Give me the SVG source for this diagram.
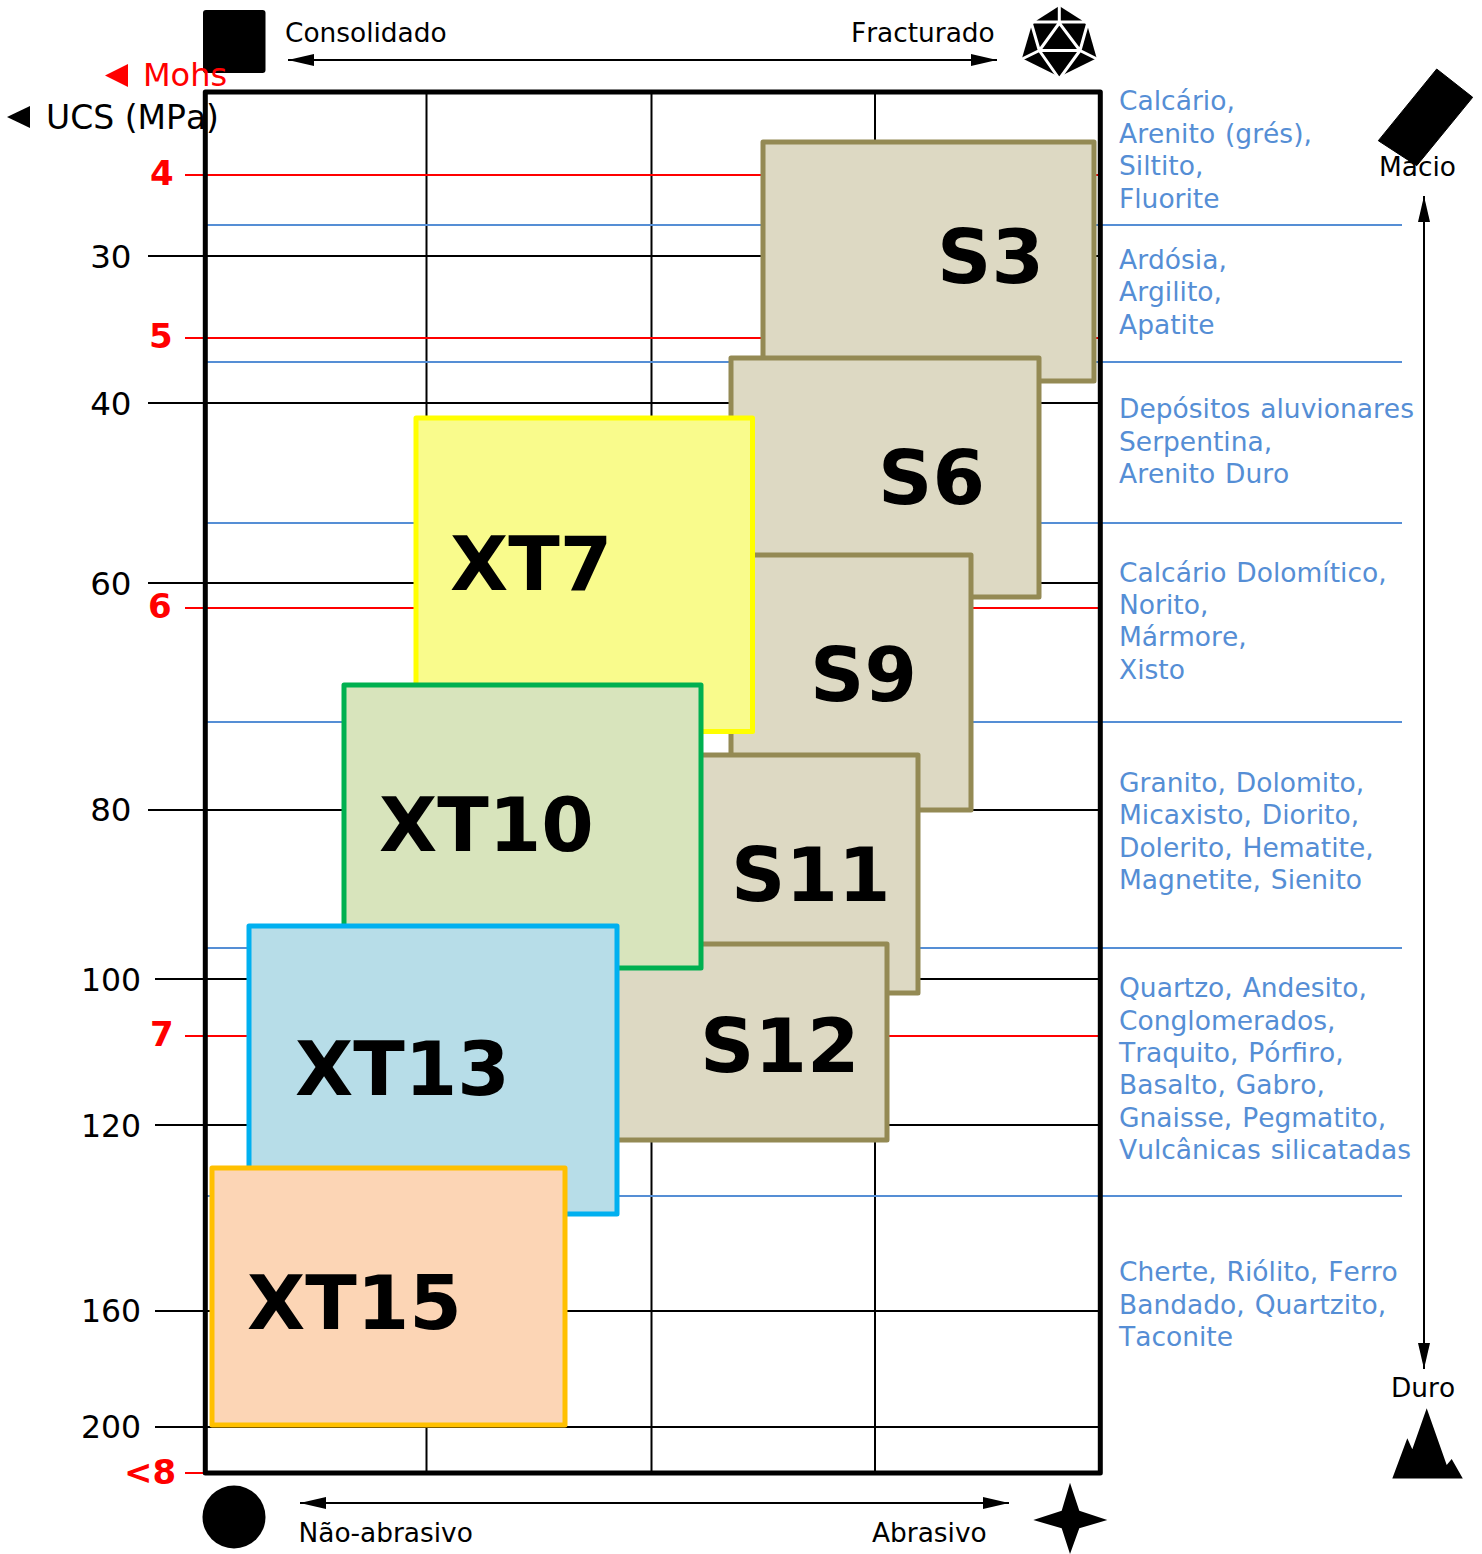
<svg xmlns="http://www.w3.org/2000/svg" width="1482" height="1554" viewBox="0 0 1482 1554">
<style>
text{font-family:"DejaVu Sans",Verdana,sans-serif;font-kerning:none}
.k{font-size:26.4px;fill:#000}
.ax{font-size:32.5px;fill:#000}
.ax3{font-size:31.5px;fill:#000}
.m{font-size:34px;fill:#f00;font-weight:bold}
.b{font-size:26.5px;fill:#558ed5;word-spacing:1.500px}
.t{font-size:75.5px;font-weight:bold;fill:#000}
.g{stroke:#000;stroke-width:2;fill:none}
.r{stroke:#f00;stroke-width:2;fill:none}
.h{stroke:#558ed5;stroke-width:2;fill:none}
.s{fill:#ddd9c3;stroke:#948a54;stroke-width:5;stroke-linejoin:round}
</style>
<defs>
<marker id="a" viewBox="0 0 26 12" refX="26" refY="6" markerWidth="26" markerHeight="12" markerUnits="userSpaceOnUse" orient="auto-start-reverse"><path d="M0 0L26 6L0 12Z" fill="#000"/></marker>
</defs>
<g id="connectors">
<path class="g" d="M426.500 92V1473M651.500 92V1473M875 92V1473"/>
<path class="r" d="M185 175H1100M185 338H1100M185 608H1100M185 1036H1100M185 1473H205"/>
<path class="h" d="M205 225H1402M205 362H1402M205 523H1402M205 722H1402M205 948H1402M205 1196H1402"/>
<path class="g" d="M148 256H1100M148 403H1100M148 583H1100M148 810H1100M155 979H1100M155 1125H1100M155 1311H1100M155 1427H1100"/>
<path class="g" d="M288 60H997" marker-start="url(#a)" marker-end="url(#a)"/>
<path class="g" d="M300 1503H1009" marker-start="url(#a)" marker-end="url(#a)"/>
<path class="g" d="M1424 196V1369" marker-start="url(#a)" marker-end="url(#a)"/>
</g>
<g id="frame"><rect x="205.300" y="92" width="895" height="1381" fill="none" stroke="#000" stroke-width="5" stroke-linejoin="round"/></g>
<g id="icon-consolidado"><rect x="203" y="10" width="62.500" height="63" rx="3" fill="#000"/></g>
<g id="icon-fracturado">
<path d="M1059.300 6L1081.300 20L1087.300 25.300L1096.700 58.300L1059.300 76.700L1022 58.300L1031.700 25.300L1037.300 20Z" fill="#000"/>
<path d="M1059.300 4V23M1029 22H1090M1059.300 23L1039.300 50.500H1080ZM1031 22L1039.300 50.500L1020 60M1088 22L1080 50.500L1099 60M1039.300 50.500L1059.300 79L1080 50.500" fill="none" stroke="#fff" stroke-width="3"/>
</g>
<g id="icon-macio"><path d="M1436.700 69L1472.700 97.300L1416.700 165.700L1378.300 140.700Z" fill="#000" stroke="#000" stroke-width="1" stroke-linejoin="round"/></g>
<g id="icon-duro"><path d="M1392.300 1478.500L1407.300 1438.300L1412.300 1449.300L1426.700 1408.300L1446.700 1465L1451.700 1459L1462.800 1478.500Z" fill="#000"/></g>
<g id="icon-nao-abrasivo"><circle cx="234" cy="1517" r="31.500" fill="#000"/></g>
<g id="icon-abrasivo"><path d="M1070 1482.700L1079.300 1510.700L1107.300 1520L1079.300 1528.300L1070 1554L1061.700 1528.300L1033.300 1520L1061.700 1510.700Z" fill="#000"/></g>
<g id="S3"><rect class="s" x="763" y="142" width="331" height="239"/><text class="t" x="937" y="283">S3</text></g>
<g id="S6"><rect class="s" x="731" y="358" width="308" height="239"/><text class="t" x="878" y="504">S6</text></g>
<g id="S9"><rect class="s" x="731" y="555" width="240" height="255"/><text class="t" x="810" y="701">S9</text></g>
<g id="S11"><rect class="s" x="680" y="755" width="238" height="238"/><text class="t" x="731" y="900.500">S11</text></g>
<g id="S12"><rect class="s" x="600" y="944" width="287" height="196"/><text class="t" x="700" y="1072">S12</text></g>
<g id="XT7"><rect x="416" y="418" width="336.500" height="313.500" fill="#f9fb8c" stroke="#ff0" stroke-width="5" stroke-linejoin="round"/><text class="t" x="450" y="589.500">XT7</text></g>
<g id="XT10"><rect x="344" y="685" width="357" height="283" fill="#d8e4bc" stroke="#00b050" stroke-width="5" stroke-linejoin="round"/><text class="t" x="379" y="851">XT10</text></g>
<g id="XT13"><rect x="249" y="926" width="368" height="288" fill="#b7dde8" stroke="#00b0f0" stroke-width="5" stroke-linejoin="round"/><text class="t" x="295" y="1095">XT13</text></g>
<g id="XT15"><rect x="212" y="1168" width="353" height="257" fill="#fcd5b5" stroke="#ffc000" stroke-width="5" stroke-linejoin="round"/><text class="t" x="247" y="1329">XT15</text></g>
<g id="labels">
<path d="M128 64V87L105 75.500Z" fill="#f00"/>
<text x="143" y="86" style="font-size:32px;fill:#f00">Mohs</text>
<path d="M30 106V128L7 117Z" fill="#000"/>
<text x="46" y="129" style="font-size:33px">UCS (MPa)</text>
<text class="k" x="285" y="42">Consolidado</text>
<text class="k" x="851" y="42">Fracturado</text>
<text class="k" x="298.500" y="1542">Não-abrasivo</text>
<text class="k" x="872" y="1542">Abrasivo</text>
<text class="k" x="1379" y="176">Macio</text>
<text class="k" x="1391" y="1397">Duro</text>
<text class="m" x="150" y="184.500">4</text>
<text class="m" x="149" y="347.500">5</text>
<text class="m" x="148" y="618">6</text>
<text class="m" x="150" y="1046">7</text>
<text class="m" x="124" y="1484">&lt;8</text>
<g class="ax" text-anchor="end">
<text x="131.500" y="268">30</text><text x="131.500" y="415">40</text><text x="131.500" y="595">60</text><text x="131.500" y="821">80</text>
</g>
<g class="ax3" text-anchor="end">
<text x="141" y="991">100</text><text x="141" y="1137">120</text><text x="141" y="1322">160</text><text x="141" y="1438">200</text>
</g>
<g class="b">
<text x="1119" y="110">Calcário,</text><text x="1119" y="143">Arenito (grés),</text><text x="1119" y="175">Siltito,</text><text x="1119" y="208">Fluorite</text>
<text x="1119" y="269">Ardósia,</text><text x="1119" y="301">Argilito,</text><text x="1119" y="334">Apatite</text>
<text x="1119" y="418">Depósitos aluvionares</text><text x="1119" y="450.500">Serpentina,</text><text x="1119" y="483">Arenito Duro</text>
<text x="1119" y="582">Calcário Dolomítico,</text><text x="1119" y="614">Norito,</text><text x="1119" y="646">Mármore,</text><text x="1119" y="679">Xisto</text>
<text x="1119" y="792">Granito, Dolomito,</text><text x="1119" y="824">Micaxisto, Diorito,</text><text x="1119" y="857">Dolerito, Hematite,</text><text x="1119" y="889">Magnetite, Sienito</text>
<text x="1119" y="997">Quartzo, Andesito,</text><text x="1119" y="1030">Conglomerados,</text><text x="1119" y="1062">Traquito, Pórfiro,</text><text x="1119" y="1094">Basalto, Gabro,</text><text x="1119" y="1127">Gnaisse, Pegmatito,</text><text x="1119" y="1159">Vulcânicas silicatadas</text>
<text x="1119" y="1281">Cherte, Riólito, Ferro</text><text x="1119" y="1314">Bandado, Quartzito,</text><text x="1119" y="1346">Taconite</text>
</g>
</g>
</svg>
